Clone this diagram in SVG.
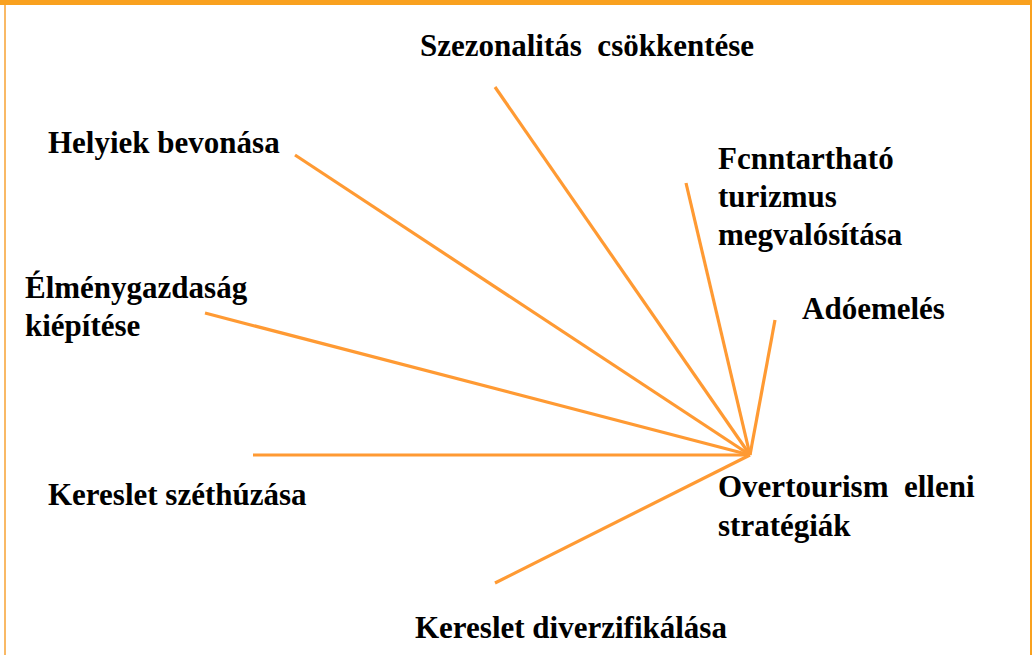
<svg xmlns="http://www.w3.org/2000/svg" width="1032" height="655" viewBox="0 0 1032 655">
<style>
.t{font-family:"Liberation Serif","Times New Roman",serif;font-weight:bold;font-size:31px;fill:#000}
.c{stroke:#FF9A33;stroke-width:3.2;stroke-linecap:butt;fill:none}
</style>
<rect x="0" y="0" width="1032" height="655" fill="#fff"/>
<rect x="0" y="0" width="1032" height="5" fill="#F9A11F"/>
<rect x="4" y="5" width="2" height="650" fill="#F9B966"/>
<rect x="1030" y="5" width="2" height="650" fill="#F9A11F"/>
<g id="connectors">
<line class="c" x1="495" y1="87" x2="750" y2="455"/>
<line class="c" x1="295" y1="155" x2="750" y2="455"/>
<line class="c" x1="205" y1="313" x2="750" y2="455"/>
<line class="c" x1="253" y1="455" x2="750" y2="455"/>
<line class="c" x1="495" y1="583" x2="750" y2="455"/>
<line class="c" x1="686" y1="183" x2="750" y2="455"/>
<line class="c" x1="775" y1="320" x2="750" y2="455"/>
</g>
<g id="n-szezon"><text class="t" x="420" y="56" xml:space="preserve">Szezonalitás  csökkentése</text></g>
<g id="n-helyiek"><text class="t" x="48" y="153">Helyiek bevonása</text></g>
<g id="n-elmeny"><text class="t" x="25" y="298">Élménygazdaság</text><text class="t" x="25" y="336">kiépítése</text></g>
<g id="n-szethuzas"><text class="t" x="48" y="505">Kereslet széthúzása</text></g>
<g id="n-diverz"><text class="t" x="415" y="638">Kereslet diverzifikálása</text></g>
<g id="n-fennt"><text class="t" x="718" y="169">Fcnntartható</text><text class="t" x="718" y="207">turizmus</text><text class="t" x="718" y="245">megvalósítása</text></g>
<g id="n-ado"><text class="t" x="802" y="319">Adóemelés</text></g>
<g id="n-over"><text class="t" x="718" y="497" xml:space="preserve">Overtourism  elleni</text><text class="t" x="718" y="536">stratégiák</text></g>
</svg>
